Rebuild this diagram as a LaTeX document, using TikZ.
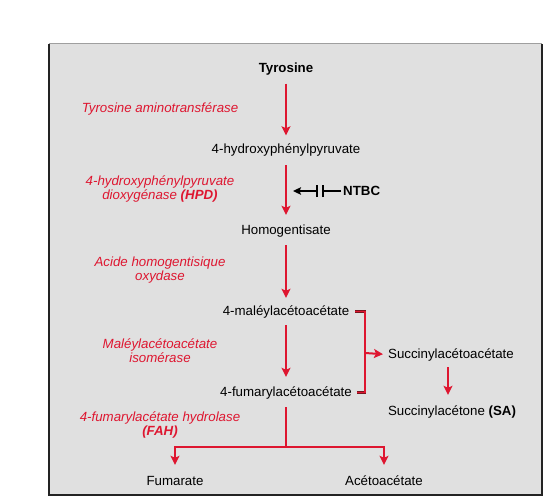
\documentclass[tikz,border=0pt]{standalone}
\usepackage{fontspec}
\setmainfont{Liberation Sans}
\usetikzlibrary{arrows.meta,calc}
\definecolor{enzred}{RGB}{222,22,48}
\definecolor{darkbr}{RGB}{120,20,30}
\definecolor{bggray}{RGB}{224,224,224}
\definecolor{framedark}{RGB}{35,35,35}
\begin{document}
\begin{tikzpicture}[x=1pt,y=-1pt,
  every node/.style={inner sep=0pt, font=\fontsize{13.3}{13.5}\selectfont},
  metab/.style={anchor=base, text height=9.5pt, text depth=2.5pt},
  enz/.style={text=enzred, font=\fontsize{13.3}{13.5}\selectfont\itshape, align=center},
  rline/.style={draw=enzred, line width=2pt},
  rarr/.style={rline, -{Stealth[length=9pt,width=9pt,inset=2pt]}},
  brline/.style={draw=darkbr, line width=0.5pt, double=enzred, double distance=1.6pt},
  inhib/.style={draw=black, line width=1.6pt}
]
\useasboundingbox (0,0) rectangle (543,497);
% frame
\fill[bggray] (49,44) rectangle (542,495);
\draw[gray!75, line width=1pt] (49,44) -- (542,44);
\draw[framedark, line width=1.5pt] (49,44) -- (49,495) -- (542,495) -- (542,44);

% metabolites
\node[metab, font=\fontsize{13.3}{13.5}\selectfont\bfseries] (tyr) at (286,73) {Tyrosine};
\node[metab] (hpp) at (286,154) {4-hydroxyphénylpyruvate};
\node[metab] (hga) at (286,234) {Homogentisate};
\node[metab] (maa) at (286,315) {4-maléylacétoacétate};
\node[metab] (faa) at (286,396) {4-fumarylacétoacétate};
\node[metab] (saa) at (451,358) {Succinylacétoacétate};
\node[metab] (sa) at (452,415) {Succinylacétone \textbf{(SA)}};
\node[metab] (fum) at (175,485) {Fumarate};
\node[metab] (aca) at (384,485) {Acétoacétate};

% enzymes
\node[enz] (e1) at (160,109) {Tyrosine aminotransférase};
\node[enz] (e2) at (160,189) {4-hydroxyphénylpyruvate\\dioxygénase \textbf{(HPD)}};
\node[enz] (e3) at (160,270) {Acide homogentisique\\oxydase};
\node[enz] (e4) at (160,350.5) {Maléylacétoacétate\\isomérase};
\node[enz] (e5) at (160,425) {4-fumarylacétate hydrolase\\\textbf{(FAH)}};

% main arrows
\draw[rarr, shorten <=8pt, shorten >=9pt] (tyr) -- (hpp);
\draw[rarr, shorten <=8.5pt, shorten >=9.5pt] (hpp) -- (hga);
\draw[rarr, shorten <=8.5pt, shorten >=7.5pt] (hga) -- (maa);
\draw[rarr, shorten <=7.5pt, shorten >=9.5pt] (maa) -- (faa);

% inhibitor NTBC
\node[anchor=west, font=\fontsize{13.3}{13.5}\selectfont\bfseries] (ntbc) at (343,191) {NTBC};
\coordinate (barR) at (323,191);
\coordinate (barL) at (317,191);
\coordinate (ntip) at (293,191);
\draw[inhib] ([xshift=-2pt]ntbc.west) -- (barR);
\draw[inhib] ([yshift=-6pt]barR) -- ([yshift=6pt]barR);
\draw[inhib] ([yshift=-6pt]barL) -- ([yshift=6pt]barL);
\draw[inhib, -{Stealth[length=8pt,width=7.5pt,inset=1.5pt]}] (barL) -- (ntip);

% bracket to succinylacetoacetate
\coordinate (bk) at (365,353);
\draw[brline, line join=miter] ([xshift=6pt]maa.east) -| (bk) |- ([xshift=5pt]faa.east);
\draw[rarr, shorten >=5pt] (bk) -- (saa.west);
\draw[rarr, shorten <=6.5pt, shorten >=10.5pt] ([xshift=-3pt]saa.south) -- ([xshift=-4pt]sa.north);

% split to fumarate and acetoacetate
\coordinate (split) at (286,447);
\draw[rline, shorten <=8.5pt] (faa) -- (split);
\draw[rarr, shorten >=10.5pt] (split) -| (fum);
\draw[rarr, shorten >=10.5pt] (split) -| (aca);
\end{tikzpicture}
\end{document}
